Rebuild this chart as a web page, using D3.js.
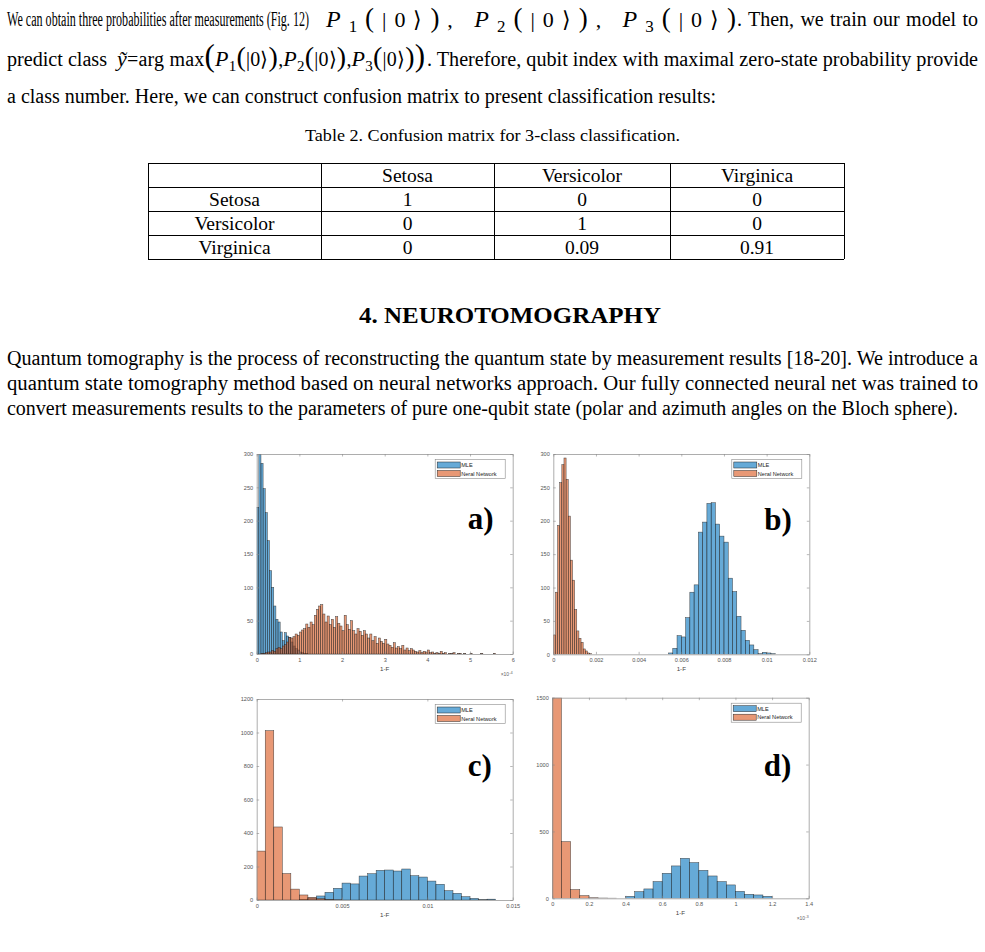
<!DOCTYPE html>
<html>
<head>
<meta charset="utf-8">
<script src="https://cdn.jsdelivr.net/npm/d3@7"></script>
<style>
  body { margin: 0; background: #fff; }
  svg { display: block; }
</style>
</head>
<body>
<div id="page"></div>
<script>
// ---- table data ----
const classNames = ["Setosa", "Versicolor", "Virginica"];
const confusion = [[1, 0, 0], [0, 1, 0], [0, 0.09, 0.91]];

// ---- histogram counts ----
// a) x in units of 1e-4
const mleA = [220, 300, 286, 248, 212, 170, 125, 100, 72, 52, 48, 33, 20, 32, 27, 25, 18, 12, 8, 6, 3, 2, 1, 1];
const nnA = [0, 0, 1, 1, 2, 3, 3, 5, 4, 8, 10, 8, 12, 14, 18, 25, 24, 26, 30, 28, 33, 36, 38, 45, 40, 48, 44, 58, 67, 72,
  74, 60, 48, 57, 44, 52, 40, 56, 46, 42, 35, 58, 44, 37, 50, 35, 30, 38, 34, 28, 35, 30, 24, 30, 20, 26, 16, 24, 19, 16,
  22, 15, 13, 10, 17, 9, 11, 8, 13, 6, 9, 5, 8, 6, 4, 3, 5, 2, 4, 3, 6, 2, 3, 1, 2, 1, 4, 1, 2, 0, 1, 1, 2, 0, 1, 1, 0, 1,
  0, 0, 1, 0, 0, 0, 0, 1, 0, 0, 0, 0, 0, 1];
// b)
const mleB = [2, 9, 28, 26, 55, 93, 104, 183, 198, 226, 227, 195, 177, 168, 114, 94, 57, 36, 21, 14, 7, 1, 3, 2, 1];
const nnB = [29, 93, 193, 257, 284, 294, 262, 207, 141, 111, 67, 35, 24, 18, 8, 5, 2, 1];
// c)
const mleC = [3, 12, 24, 46, 70, 101, 96, 143, 157, 177, 179, 173, 185, 145, 137, 113, 94, 56, 40, 20, 10, 2, 5];
const nnC = [292, 1011, 436, 158, 65, 30, 15, 8, 3, 1];
// d) x in units of 1e-3
const mleD = [15, 50, 70, 125, 187, 242, 299, 267, 209, 167, 125, 100, 52, 30, 25, 15];
const nnD = [1500, 424, 65, 20, 4, 2, 1];

// bin edges: [first edge, bin width]
const binsMleA = [0, 0.05], binsNnA = [0, 0.05];
const binsMleB = [0.0054, 0.0002], binsNnB = [0, 0.0001];
const binsMleC = [0.0025, 0.0005], binsNnC = [0, 0.0005];
const binsMleD = [0.4, 0.05], binsNnD = [0, 0.05];

// ---- axis ticks ----
const xTicksA = [0, 1, 2, 3, 4, 5, 6];
const xTicksB = [0, 0.002, 0.004, 0.006, 0.008, 0.01, 0.012];
const xTicksC = [0, 0.005, 0.01, 0.015];
const xTicksD = [0, 0.2, 0.4, 0.6, 0.8, 1, 1.2, 1.4];
const yTicksAB = [0, 50, 100, 150, 200, 250, 300];
const yTicksC = [0, 200, 400, 600, 800, 1000, 1200];
const yTicksD = [0, 500, 1000, 1500];
const seriesNames = ["MLE", "Neral Network"];

const serif = '"Liberation Serif", "Times New Roman", serif';
const sans = '"Liberation Sans", Arial, sans-serif';
const blue = "rgb(0,114,189)", orange = "rgb(217,83,25)";

const svg = d3.select("#page").append("svg")
  .attr("width", 985)
  .attr("height", 952);
svg.append("rect").attr("width", 985).attr("height", 952).attr("fill", "#fff");

// text squeezed (or stretched) to the width measured on the page
function line(x, y, str, len, size, weight, adjust) {
  const t = svg.append("text")
    .attr("x", x).attr("y", y)
    .attr("font-family", serif)
    .attr("font-size", size || 20)
    .attr("font-weight", weight || "normal")
    .attr("fill", "#000")
    .text(str);
  if (len) t.attr("textLength", len).attr("lengthAdjust", adjust || "spacingAndGlyphs");
  return t;
}

// justified piece: widen word gaps only
function spread(t, target) {
  const w = t.node().getComputedTextLength();
  const gaps = (t.text().match(/ /g) || []).length;
  if (gaps && target > w) t.attr("word-spacing", (target - w) / gaps);
  return t;
}

// math pieces: [text, kind]
function mathText(x, y, pieces, len, base, bigStep) {
  const t = svg.append("text")
    .attr("x", x).attr("y", y)
    .attr("font-family", serif)
    .attr("font-size", base);
  let shift = 0;
  pieces.forEach(([s, kind]) => {
    const sp = t.append("tspan").text(s);
    let target = 0;
    if (kind === "it") sp.attr("font-style", "italic").attr("font-size", base + 2);
    if (kind === "sub") { sp.attr("font-size", base - 5); target = 5; }
    if (kind === "big") sp.attr("font-size", base + bigStep);
    if (kind === "huge") sp.attr("font-size", base + 11);
    if (target !== shift) { sp.attr("dy", target - shift); shift = target; }
  });
  const w = t.node().getComputedTextLength();
  t.attr("textLength", len).attr("lengthAdjust", w > len ? "spacingAndGlyphs" : "spacing");
}

function pGroup(n) {
  return [["P", "it"], [String(n), "sub"], ["(", "big"], ["|0\u27E9", ""], [")", "big"]];
}

// ---- paragraph 1 ----
line(7, 26, "We can obtain three probabilities after measurements (Fig. 12)", 302);
mathText(326, 27, [...pGroup(1), [", ", ""], ...pGroup(2), [", ", ""], ...pGroup(3)], 410, 22, 5);
spread(line(737, 26, ". Then, we train our model to", null, 20), 241);

line(7, 66, "predict class", 100);
mathText(117, 66, [["\u1EF9", "it"], ["=arg max", ""], ["(", "huge"], ...pGroup(1), [",", ""], ...pGroup(2), [",", ""], ...pGroup(3), [")", "huge"]], 308, 20, 8);
line(427, 66, ". Therefore, qubit index with maximal zero-state probability provide", 551);

line(7, 103, "a class number. Here, we can construct confusion matrix to present classification results:", 709);

// ---- table ----
line(305, 141, "Table 2. Confusion matrix for 3-class classification.", 375, 17);

const colEdges = [148, 321, 494, 670, 844];
const rowEdges = [163, 187, 211, 235, 259];
const tbl = svg.append("g").attr("stroke", "#000").attr("stroke-width", 1);
rowEdges.forEach(r => tbl.append("line").attr("x1", colEdges[0]).attr("x2", colEdges[4]).attr("y1", r + 0.5).attr("y2", r + 0.5));
colEdges.forEach(c => tbl.append("line").attr("x1", c + 0.5).attr("x2", c + 0.5).attr("y1", rowEdges[0]).attr("y2", rowEdges[4]));

const colMid = i => (colEdges[i] + colEdges[i + 1]) / 2;
const rowBase = i => rowEdges[i] + 18.5;
classNames.forEach((n, i) => {
  line(colMid(i + 1), rowBase(0), n, null, 19.5).attr("text-anchor", "middle");
  line(colMid(0), rowBase(i + 1), n, null, 19.5).attr("text-anchor", "middle");
  confusion[i].forEach((v, j) => {
    line(colMid(j + 1), rowBase(i + 1), String(v), null, 19.5).attr("text-anchor", "middle");
  });
});

// ---- heading + paragraph 2 ----
line(359, 323, "4.  NEUROTOMOGRAPHY", 302, 23, "bold");
line(7, 365, "Quantum tomography is the process of reconstructing the quantum state by measurement results [18-20]. We introduce a", 971);
line(7, 390, "quantum state tomography method based on neural networks approach.  Our fully connected neural net was trained to", 971);
line(7, 415, "convert measurements results to the parameters of pure one-qubit state (polar and azimuth angles on the Bloch sphere).", 951);

// ---- histogram panels ----
const panels = [
  { key: "a", mle: mleA, nn: nnA, binsMle: binsMleA, binsNn: binsNnA, xTicks: xTicksA, yTicks: yTicksAB,
    left: 256.7, right: 512.7, top: 454, bottom: 654, exp: "-4", letterY: 529 },
  { key: "b", mle: mleB, nn: nnB, binsMle: binsMleB, binsNn: binsNnB, xTicks: xTicksB, yTicks: yTicksAB,
    left: 553.3, right: 809.3, top: 454, bottom: 654.3, exp: null, letterY: 530 },
  { key: "c", mle: mleC, nn: nnC, binsMle: binsMleC, binsNn: binsNnC, xTicks: xTicksC, yTicks: yTicksC,
    left: 256.7, right: 512.7, top: 699, bottom: 900, exp: null, letterY: 776 },
  { key: "d", mle: mleD, nn: nnD, binsMle: binsMleD, binsNn: binsNnD, xTicks: xTicksD, yTicks: yTicksD,
    left: 552.3, right: 808.7, top: 697.7, bottom: 898.3, exp: "-3", letterY: 776 }
];

function styleAxis(sel) {
  sel.attr("font-size", 5.6).attr("font-family", sans);
  sel.select(".domain").attr("stroke", "#8a8a8a").attr("stroke-width", 0.7);
  sel.selectAll(".tick line").attr("stroke", "#8a8a8a").attr("stroke-width", 0.6);
  sel.selectAll(".tick text").attr("fill", "#555");
}

panels.forEach(p => {
  const g = svg.append("g");
  const xMax = d3.max(p.xTicks), yMax = d3.max(p.yTicks);
  const x = d3.scaleLinear().domain([0, xMax]).range([p.left, p.right]);
  const y = d3.scaleLinear().domain([0, yMax]).range([p.bottom, p.top]);

  g.append("clipPath").attr("id", "clip-" + p.key)
    .append("rect")
    .attr("x", p.left).attr("y", p.top)
    .attr("width", p.right - p.left).attr("height", p.bottom - p.top);

  const plot = g.append("g").attr("clip-path", `url(#clip-${p.key})`);
  [[p.mle, p.binsMle, blue], [p.nn, p.binsNn, orange]].forEach(([vals, bins, col]) => {
    const data = vals.map((v, i) => ({ x0: bins[0] + i * bins[1], x1: bins[0] + (i + 1) * bins[1], v }))
      .filter(d => d.v > 0);
    plot.append("g").selectAll("rect")
      .data(data)
      .join("rect")
      .attr("x", d => x(d.x0))
      .attr("width", d => x(d.x1) - x(d.x0))
      .attr("y", d => y(d.v))
      .attr("height", d => y(0) - y(d.v))
      .attr("fill", col)
      .attr("fill-opacity", 0.6)
      .attr("stroke", "#262626")
      .attr("stroke-opacity", 0.85)
      .attr("stroke-width", 0.5);
  });

  const fmt = d => String(d);
  g.append("g").attr("transform", `translate(0,${p.bottom})`)
    .call(d3.axisBottom(x).tickValues(p.xTicks).tickFormat(fmt).tickSize(-2.5).tickSizeOuter(0).tickPadding(4))
    .call(styleAxis);
  g.append("g").attr("transform", `translate(0,${p.top})`)
    .call(d3.axisTop(x).tickValues(p.xTicks).tickFormat("").tickSize(-2.5).tickSizeOuter(0))
    .call(styleAxis);
  g.append("g").attr("transform", `translate(${p.left},0)`)
    .call(d3.axisLeft(y).tickValues(p.yTicks).tickFormat(fmt).tickSize(-2.5).tickSizeOuter(0).tickPadding(3.5))
    .call(styleAxis);
  g.append("g").attr("transform", `translate(${p.right},0)`)
    .call(d3.axisRight(y).tickValues(p.yTicks).tickFormat("").tickSize(-2.5).tickSizeOuter(0))
    .call(styleAxis);

  // x label
  g.append("text")
    .attr("x", (p.left + p.right) / 2).attr("y", p.bottom + 16.5)
    .attr("text-anchor", "middle")
    .attr("font-family", sans).attr("font-size", 6.2).attr("fill", "#444")
    .text("1-F");

  if (p.exp) {
    const e = g.append("text")
      .attr("x", p.right).attr("y", p.bottom + 22)
      .attr("text-anchor", "end")
      .attr("font-family", sans).attr("font-size", 5).attr("fill", "#666");
    e.append("tspan").text("\u00D710");
    e.append("tspan").attr("font-size", 4).attr("dy", -2.5).text(p.exp);
  }

  // legend
  const lw = 70, lh = 19;
  const lx = p.right - 77.5, ly = p.top + 5.5;
  const lg = g.append("g").attr("transform", `translate(${lx},${ly})`);
  lg.append("rect").attr("width", lw).attr("height", lh)
    .attr("fill", "#fff").attr("stroke", "#8a8a8a").attr("stroke-width", 0.6);
  seriesNames.forEach((n, i) => {
    lg.append("rect")
      .attr("x", 2).attr("y", 2.5 + i * 8.5)
      .attr("width", 23).attr("height", 6)
      .attr("fill", i === 0 ? blue : orange).attr("fill-opacity", 0.6)
      .attr("stroke", "#262626").attr("stroke-width", 0.5);
    lg.append("text")
      .attr("x", 26).attr("y", 7.6 + i * 8.5)
      .attr("font-family", sans).attr("font-size", 5.6).attr("fill", "#222")
      .text(n);
  });

  // panel letter
  g.append("text")
    .attr("x", p.right - 45).attr("y", p.letterY)
    .attr("font-family", serif).attr("font-weight", "bold").attr("font-size", 31)
    .attr("fill", "#000")
    .text(p.key + ")");
});
</script>
</body>
</html>
